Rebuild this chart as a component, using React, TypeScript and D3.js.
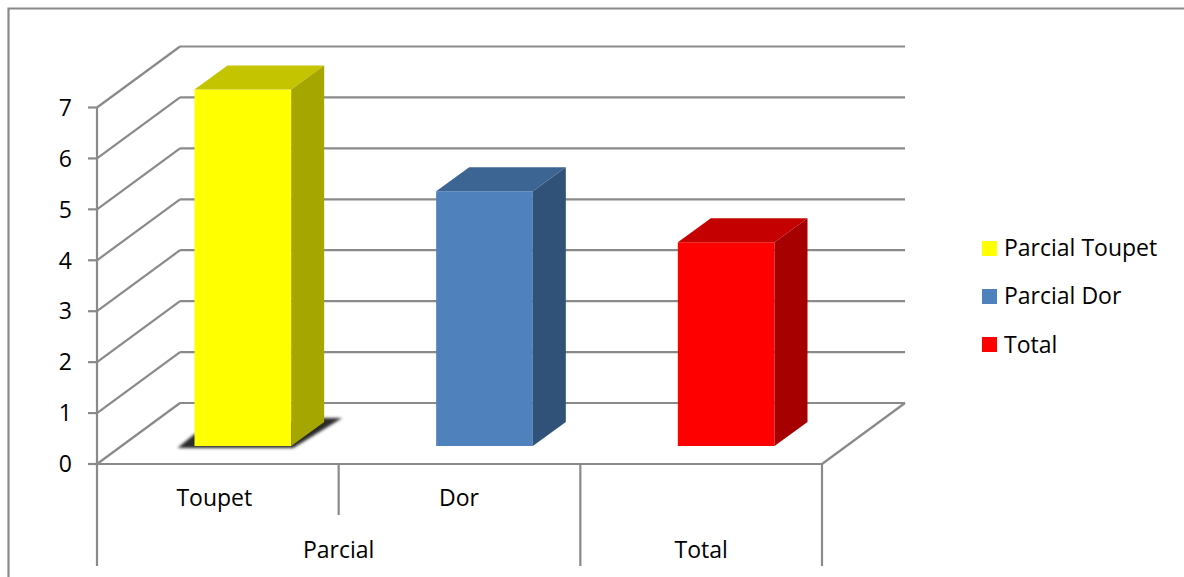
import React from "react";
import * as d3 from "d3";

const seriesNames = ["Parcial Toupet", "Parcial Dor", "Total"];
const seriesValues = [7, 5, 4];
const subLabels = ["Toupet", "Dor", ""];
const groupLabels = [
  { label: "Parcial", from: 0, to: 2 },
  { label: "Total", from: 2, to: 3 },
];
const yTicks = [0, 1, 2, 3, 4, 5, 6, 7];
const frontColors = ["#ffff00", "#4f81bd", "#ff0000"];
const topColors = ["#c4c400", "#3d6593", "#c40000"];
const sideColors = ["#a6a600", "#315278", "#a60000"];

const AXIS = "#8a8a8a";
const FONT = "'Open Sans', 'Noto Sans', sans-serif";
const FONT_SIZE = 23;
const LINE = 2.2;

// Oblique projection of the 3D chart box
const wallDx = 83;
const wallDy = -61;
const barDx = 33;
const barDy = -24;
const barInsetX = 25;
const barInsetY = -18;

const y = d3.scaleLinear().domain([0, 7]).range([464, 107.5]);
const x = d3.scaleLinear().domain([0, 3]).range([97, 822]);
const band = d3.scaleBand<number>().domain([0, 1, 2]).range([97, 822]).paddingInner(0.6).paddingOuter(0.3);

const pts = (p: [number, number][]) => p.map((q) => q.join(",")).join(" ");

function Bar({ i }: { i: number }) {
  const x0 = band(i)! + barInsetX;
  const w = band.bandwidth();
  const x1 = x0 + w;
  const top = y(seriesValues[i]) + barInsetY;
  const bottom = y(0) + barInsetY;
  return (
    <g>
      <polygon fill={frontColors[i]} points={pts([[x0, top], [x1, top], [x1, bottom], [x0, bottom]])} />
      <polygon fill={topColors[i]} points={pts([[x0, top], [x0 + barDx, top + barDy], [x1 + barDx, top + barDy], [x1, top]])} />
      <polygon fill={sideColors[i]} points={pts([[x1, top], [x1 + barDx, top + barDy], [x1 + barDx, bottom + barDy], [x1, bottom]])} />
    </g>
  );
}

export default function App() {
  const bx0 = band(0)! + barInsetX;
  const bw = band.bandwidth();
  const by = y(0) + barInsetY;
  return (
    <svg
      width={1184}
      height={577}
      style={{ position: "absolute", left: 0, top: 0, background: "#fff" }}
      fontFamily={FONT}
    >
      <defs>
        <filter id="contact-shadow" x="-20%" y="-50%" width="140%" height="200%">
          <feGaussianBlur stdDeviation="1.8" />
        </filter>
      </defs>

      <path d="M8.5,577V8.5H1184" fill="none" stroke={AXIS} strokeWidth={LINE} />

      {/* Back wall gridlines and their diagonals on the side wall */}
      {yTicks.map((t) => (
        <g key={t} stroke={AXIS} strokeWidth={LINE} fill="none">
          <line x1={x(0)} y1={y(t)} x2={x(0) + wallDx} y2={y(t) + wallDy} />
          <line x1={x(0) + wallDx} y1={y(t) + wallDy} x2={x(3) + wallDx} y2={y(t) + wallDy} />
          <line x1={x(0) - 9} y1={y(t)} x2={x(0)} y2={y(t)} />
        </g>
      ))}

      {/* Floor edges */}
      <line x1={x(0)} y1={y(0)} x2={x(3)} y2={y(0)} stroke={AXIS} strokeWidth={LINE} />
      <line x1={x(3)} y1={y(0)} x2={x(3) + wallDx} y2={y(0) + wallDy} stroke={AXIS} strokeWidth={LINE} />
      <line x1={x(0)} y1={y(7)} x2={x(0)} y2={566} stroke={AXIS} strokeWidth={LINE} />

      {/* Category separators */}
      <line x1={x(1)} y1={y(0)} x2={x(1)} y2={515} stroke={AXIS} strokeWidth={LINE} />
      <line x1={x(2)} y1={y(0)} x2={x(2)} y2={566} stroke={AXIS} strokeWidth={LINE} />
      <line x1={x(3)} y1={y(0)} x2={x(3)} y2={566} stroke={AXIS} strokeWidth={LINE} />

      {/* Dark shadow under the first bar */}
      <polygon
        fill="#2a2a2a"
        filter="url(#contact-shadow)"
        points={pts([
          [bx0 - 17, by + 2],
          [bx0 + bw + 2, by + 2],
          [bx0 + bw + barDx + 18, by + barDy - 4],
          [bx0 + bw + barDx - 4, by + barDy - 4],
          [bx0, by - 12],
        ])}
      />

      {seriesValues.map((_, i) => (
        <Bar key={i} i={i} />
      ))}

      {yTicks.map((t) => (
        <text key={t} x={72} y={y(t)} dy="0.36em" textAnchor="end" fontSize={FONT_SIZE} fill="#000">
          {t}
        </text>
      ))}

      {subLabels.map((s, i) =>
        s ? (
          <text key={s} x={(x(i) + x(i + 1)) / 2 - (i === 0 ? 3.5 : 0.5)} y={506} textAnchor="middle" fontSize={FONT_SIZE} fill="#000">
            {s}
          </text>
        ) : null
      )}
      {groupLabels.map((g) => (
        <text key={g.label} x={(x(g.from) + x(g.to)) / 2} y={558} textAnchor="middle" fontSize={FONT_SIZE} fill="#000">
          {g.label}
        </text>
      ))}

      {seriesNames.map((n, i) => (
        <g key={n} transform={`translate(982,${241 + i * 48})`}>
          <rect width={15} height={15} fill={frontColors[i]} />
          <text x={22} y={14.5 + (i === 2 ? 1 : 0)} fontSize={FONT_SIZE} fill="#000">
            {n}
          </text>
        </g>
      ))}
    </svg>
  );
}
